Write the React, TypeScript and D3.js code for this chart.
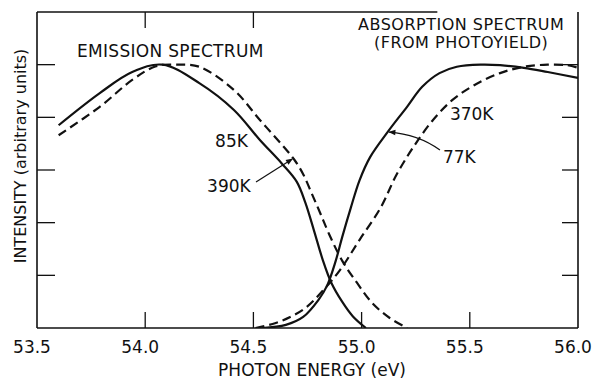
import React from 'react';
import { scaleLinear, line, curveCatmullRom } from 'd3';

// emission spectrum, 85K (solid) and 390K (dashed)
const em85X = [53.6, 53.79, 53.94, 54.08, 54.25, 54.41, 54.53, 54.63, 54.70, 54.74, 54.78, 54.82, 54.86, 54.91, 54.96, 55.02];
const em85Y = [3.85, 4.46, 4.86, 5.0, 4.65, 4.14, 3.57, 3.13, 2.78, 2.38, 1.85, 1.30, 0.86, 0.50, 0.22, 0];
const em390X = [53.6, 53.79, 53.94, 54.05, 54.15, 54.25, 54.41, 54.53, 54.64, 54.69, 54.73, 54.77, 54.81, 54.85, 54.91, 54.98, 55.05, 55.13, 55.21];
const em390Y = [3.66, 4.2, 4.71, 4.97, 5.0, 4.96, 4.52, 3.95, 3.44, 3.19, 2.92, 2.55, 2.17, 1.78, 1.28, 0.85, 0.47, 0.19, 0];

// absorption spectrum (photoyield), 77K (solid) and 370K (dashed)
const abs77X = [54.54, 54.65, 54.73, 54.80, 54.84, 54.88, 54.91, 54.95, 54.99, 55.04, 55.12, 55.21, 55.28, 55.36, 55.44, 55.55, 55.64, 55.75, 55.86, 56.0];
const abs77Y = [0, 0.06, 0.21, 0.53, 0.80, 1.27, 1.72, 2.28, 2.80, 3.25, 3.72, 4.20, 4.58, 4.84, 4.96, 5.0, 4.99, 4.94, 4.86, 4.75];
const abs370X = [54.51, 54.60, 54.67, 54.74, 54.81, 54.90, 54.99, 55.09, 55.16, 55.24, 55.33, 55.42, 55.52, 55.64, 55.75, 55.86, 55.95, 56.0];
const abs370Y = [0, 0.09, 0.21, 0.38, 0.66, 1.10, 1.67, 2.30, 2.90, 3.44, 3.95, 4.33, 4.61, 4.84, 4.96, 5.0, 4.99, 4.94];

const xTicks = [53.5, 54.0, 54.5, 55.0, 55.5, 56.0];
const xTopTicks = [54.0, 54.5];
const yTicks = [1, 2, 3, 4, 5];

const W = 593, H = 381;
const font = '"DejaVu Sans", sans-serif';
const ink = '#111';

export default function App() {
    const x = scaleLinear().domain([53.5, 56]).range([37, 578]);
    const y = scaleLinear().domain([0, 6]).range([328, 12]);

    const path = line<[number, number]>().curve(curveCatmullRom.alpha(0.5));
    const toPts = (xs: number[], ys: number[]) => xs.map((v, i) => [x(v), y(ys[i])] as [number, number]);

    const x0 = x(53.5), x1 = x(56), yb = y(0), yt = y(6);

    return (
        <svg width={W} height={H} style={{ position: 'absolute', left: 0, top: 0, background: '#fff' }}>
            <defs>
                <marker id='ah' viewBox='0 0 10 10' refX='9' refY='5' markerWidth='9' markerHeight='7' orient='auto' markerUnits='userSpaceOnUse'>
                    <path d='M0,1 L10,5 L0,9 z' fill={ink} />
                </marker>
                <clipPath id='plot'>
                    <rect x={x0} y={yt} width={x1 - x0} height={yb - yt} />
                </clipPath>
            </defs>

            {/* frame */}
            <g stroke={ink} strokeWidth={1.6} fill='none'>
                <line x1={x0} y1={yb} x2={x1} y2={yb} />
                <line x1={x0} y1={yt} x2={x0} y2={yb} />
                <line x1={x1} y1={yt} x2={x1} y2={yb} />
                <line x1={x0} y1={yt} x2={x(55.35)} y2={yt} />
            </g>

            {/* ticks */}
            <g stroke={ink} strokeWidth={1.3}>
                {xTicks.slice(1, -1).map((t) => <line key={'b' + t} x1={x(t)} x2={x(t)} y1={yb} y2={yb - 16} />)}
                {xTopTicks.map((t) => <line key={'t' + t} x1={x(t)} x2={x(t)} y1={yt} y2={yt + 16} />)}
                {yTicks.map((t) => <line key={'l' + t} x1={x0} x2={x0 + 18} y1={y(t)} y2={y(t)} />)}
                {yTicks.map((t) => <line key={'r' + t} x1={x1} x2={x1 - 16} y1={y(t)} y2={y(t)} />)}
            </g>

            <g fontFamily={font} fontSize={17} fill={ink}>
                {xTicks.map((t) => (
                    <text key={t} x={x(t) - 5} y={yb + 25} textAnchor='middle'>{t.toFixed(1)}</text>
                ))}
            </g>

            {/* axis titles */}
            <text x={312} y={376} textAnchor='middle' fontFamily={font} fontSize={17} fill={ink}>PHOTON ENERGY (eV)</text>
            <text transform={`translate(26,${(yt + yb) / 2 - 14}) rotate(-90)`} textAnchor='middle' fontFamily={font} fontSize={16} fill={ink}>
                INTENSITY (arbitrary units)
            </text>

            {/* curves */}
            <g fill='none' stroke={ink} strokeWidth={2.2} clipPath='url(#plot)'>
                <path d={path(toPts(em85X, em85Y)) || ''} />
                <path d={path(toPts(em390X, em390Y)) || ''} strokeDasharray='9,5' />
                <path d={path(toPts(abs77X, abs77Y)) || ''} />
                <path d={path(toPts(abs370X, abs370Y)) || ''} strokeDasharray='9,5' />
            </g>

            {/* annotations */}
            <g fontFamily={font} fontSize={17} fill={ink}>
                <text x={x(53.685)} y={y(5.145)} letterSpacing={0.3}>EMISSION SPECTRUM</text>
                <text x={x(55.46)} y={y(5.66)} textAnchor='middle' fontSize={16} letterSpacing={0.5}>ABSORPTION SPECTRUM</text>
                <text x={x(55.46)} y={y(5.31)} textAnchor='middle' fontSize={16} letterSpacing={0.5}>(FROM PHOTOYIELD)</text>
                <text x={x(54.323)} y={y(3.44)}>85K</text>
                <text x={x(54.286)} y={y(2.58)}>390K</text>
                <text x={x(55.408)} y={y(3.95)}>370K</text>
                <text x={x(55.376)} y={y(3.13)}>77K</text>
            </g>
            <g fill='none' stroke={ink} strokeWidth={1.2}>
                <line x1={x(54.512)} y1={y(2.77)} x2={x(54.68)} y2={y(3.21)} markerEnd='url(#ah)' />
                <path d={`M${x(55.362)},${y(3.38)} Q${x(55.261)},${y(3.68)} ${x(55.127)},${y(3.72)}`} markerEnd='url(#ah)' />
            </g>
        </svg>
    );
}
